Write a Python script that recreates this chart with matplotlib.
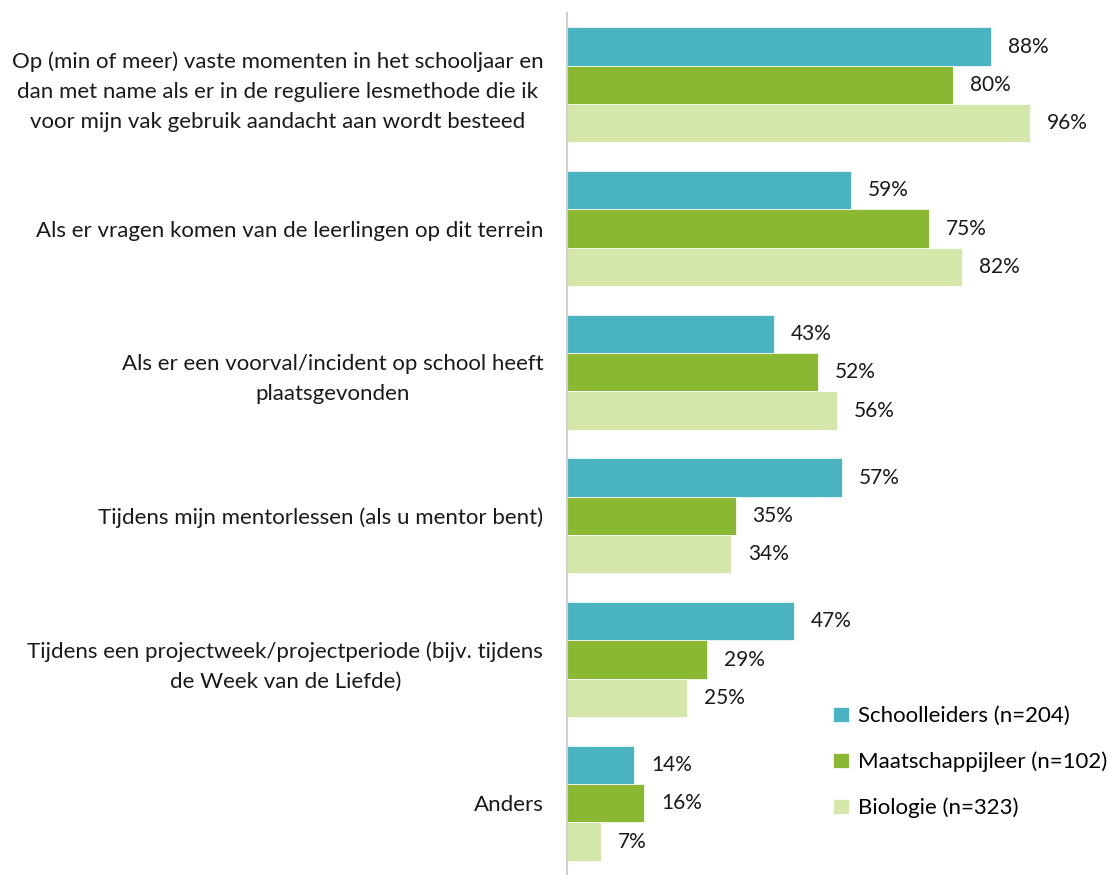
import numpy as np
import matplotlib
matplotlib.use("Agg")
import matplotlib.pyplot as plt

plt.rcParams["font.family"] = ["Lato", "DejaVu Sans"]

# -----------------------------
# Data
# -----------------------------
categories = [
    "Op (min of meer) vaste momenten in het schooljaar en\ndan met name als er in de reguliere lesmethode die ik\nvoor mijn vak gebruik aandacht aan wordt besteed",
    "Als er vragen komen van de leerlingen op dit terrein",
    "Als er een voorval/incident op school heeft\nplaatsgevonden",
    "Tijdens mijn mentorlessen (als u mentor bent)",
    "Tijdens een projectweek/projectperiode (bijv. tijdens\nde Week van de Liefde)",
    "Anders",
]
schoolleiders = [88, 59, 43, 57, 47, 14]
maatschappijleer = [80, 75, 52, 35, 29, 16]
biologie = [96, 82, 56, 34, 25, 7]
series_names = ["Schoolleiders (n=204)", "Maatschappijleer (n=102)", "Biologie (n=323)"]
colors = ["#4BB4C3", "#8BB833", "#D5E6AA"]

# -----------------------------
# Plot
# -----------------------------
fig = plt.figure(figsize=(11.08, 8.75), dpi=100)
ax = fig.add_axes([0.5117, 0.0, 0.4351, 0.985])

y = np.arange(len(categories))
h = 0.267
all_series = [schoolleiders, maatschappijleer, biologie]
for i, (vals, name, c) in enumerate(zip(all_series, series_names, colors)):
    pos = y + (i - 1) * h
    bars = ax.barh(pos, vals, height=h, color=c, label=name,
                   edgecolor="white", linewidth=0.5)
    for b, v in zip(bars, vals):
        ax.text(v + 3.5, b.get_y() + b.get_height() / 2, f"{v}%",
                va="center", ha="left", fontsize=15, color="#1a1a1a")

ax.set_xlim(0, 100)
ax.set_ylim(len(categories) - 0.5, -0.5)
ax.set_xticks([])
ax.set_yticks(y)
ax.set_yticklabels(categories, fontsize=16, color="#1a1a1a",
                   multialignment="center", linespacing=1.6)
ax.tick_params(axis="y", length=0, pad=17)
for s in ["top", "right", "bottom"]:
    ax.spines[s].set_visible(False)
ax.spines["left"].set_color("#D0D0D0")
ax.spines["left"].set_linewidth(1.5)
ax.grid(False)

leg = ax.legend(loc="upper left", bbox_to_anchor=(0.752, 0.193),
                bbox_transform=fig.transFigure, frameon=False,
                fontsize=16, handlelength=0.7, handleheight=0.7,
                handletextpad=0.4, labelspacing=1.15,
                borderpad=0, borderaxespad=0)

fig.savefig("out.png", dpi=100)
